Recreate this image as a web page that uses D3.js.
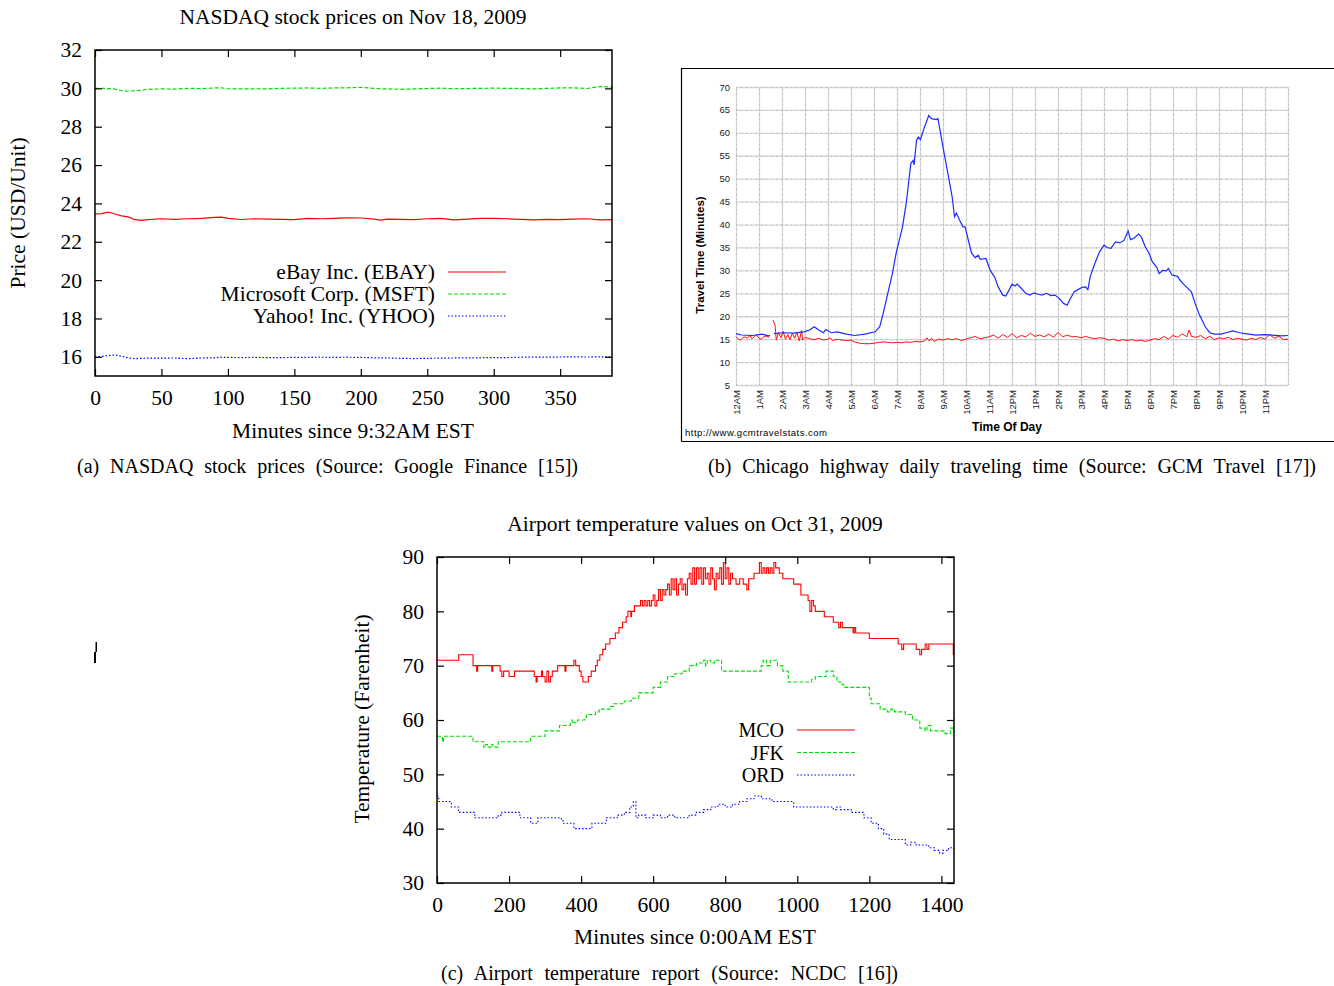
<!DOCTYPE html>
<html>
<head>
<meta charset="utf-8">
<script src="https://cdn.jsdelivr.net/npm/d3@7"></script>
<style>
  body { margin: 0; background: #fff; }
  svg { display: block; }
</style>
</head>
<body>
<svg width="1334" height="986"></svg>
<script>
// ---------- (a) NASDAQ stock prices ----------
const stockMinutes = [0, 5, 10, 15, 20, 25, 30, 35, 40, 50, 60, 70, 80, 90, 95, 100, 110, 120, 130, 140, 150, 160, 170, 180, 190, 200, 210, 215, 220, 230, 240, 250, 260, 270, 280, 290, 300, 310, 320, 330, 340, 350, 360, 370, 380, 389];
const ebayPrices = [23.45, 23.47, 23.55, 23.45, 23.35, 23.3, 23.15, 23.12, 23.15, 23.2, 23.17, 23.2, 23.22, 23.27, 23.28, 23.22, 23.16, 23.2, 23.18, 23.17, 23.15, 23.22, 23.2, 23.22, 23.25, 23.24, 23.18, 23.13, 23.18, 23.17, 23.15, 23.2, 23.22, 23.14, 23.18, 23.22, 23.22, 23.2, 23.17, 23.14, 23.17, 23.15, 23.18, 23.2, 23.14, 23.15];
const msftPrices = [30.0, 30.0, 29.99, 29.96, 29.88, 29.85, 29.88, 29.9, 29.95, 29.97, 29.96, 30.0, 29.99, 30.02, 30.03, 29.98, 29.97, 29.98, 29.97, 30.0, 30.01, 30.02, 30.0, 30.02, 30.03, 30.05, 30.0, 29.98, 29.97, 29.95, 29.97, 29.99, 30.01, 29.98, 29.99, 30.0, 30.01, 30.0, 29.99, 29.97, 30.0, 30.02, 30.03, 29.99, 30.1, 30.06];
const yhooPrices = [16.0, 16.02, 16.07, 16.1, 16.03, 15.95, 15.9, 15.92, 15.93, 15.93, 15.94, 15.9, 15.94, 15.95, 15.98, 15.97, 15.96, 15.97, 15.96, 15.96, 15.97, 15.97, 15.98, 15.97, 15.98, 15.97, 15.95, 15.94, 15.94, 15.92, 15.91, 15.92, 15.93, 15.94, 15.94, 15.95, 15.96, 15.96, 15.98, 15.98, 15.98, 15.99, 16.0, 15.99, 16.0, 16.0];
const stockNames = ["eBay Inc. (EBAY)", "Microsoft Corp. (MSFT)", "Yahoo! Inc. (YHOO)"];
const priceTicks = [16, 18, 20, 22, 24, 26, 28, 30, 32];
const stockMinuteTicks = [0, 50, 100, 150, 200, 250, 300, 350];

// ---------- (b) Chicago highway travel time ----------
// hours since midnight, null = no data
const trafficHours = [0, 0.24, 0.7, 1.15, 1.4, 1.48, 1.55, 1.65, 2.05, 2.5, 2.96, 3.2, 3.4, 3.6, 3.8, 3.9, 4.15, 4.4, 4.8, 5.15, 5.6, 6.05, 6.25, 6.4, 6.6, 6.8, 6.96, 7.1, 7.24, 7.4, 7.6, 7.7, 7.74, 7.85, 7.93, 8.02, 8.15, 8.38, 8.5, 8.7, 8.78, 8.87, 9.05, 9.24, 9.4, 9.5, 9.58, 9.73, 9.87, 9.96, 10.1, 10.24, 10.4, 10.53, 10.62, 10.87, 11.05, 11.24, 11.4, 11.6, 11.73, 11.87, 12.0, 12.13, 12.22, 12.4, 12.6, 12.78, 12.96, 13.15, 13.3, 13.5, 13.69, 13.87, 14.05, 14.24, 14.4, 14.5, 14.7, 14.87, 15.05, 15.2, 15.3, 15.4, 15.6, 15.8, 16.0, 16.13, 16.3, 16.5, 16.69, 16.87, 17.05, 17.15, 17.3, 17.5, 17.62, 17.8, 17.96, 18.1, 18.3, 18.4, 18.55, 18.7, 18.8, 18.95, 19.2, 19.3, 19.5, 19.8, 19.96, 20.15, 20.4, 20.6, 20.8, 21.1, 21.3, 21.6, 21.9, 22.3, 22.6, 23.0, 23.3, 23.7, 24.0];
const trafficTimes = [16.2, 15.9, 15.8, 16.1, 15.7, 15.8, null, 16.2, 16.4, 16.3, 16.6, 17.0, 17.7, 17.0, 16.4, 17.1, 16.4, 16.6, 16.1, 15.8, 16.1, 16.6, 17.7, 20.6, 25.0, 29.3, 33.7, 36.6, 39.5, 44.6, 53.3, 54.0, 53.0, 58.4, 59.1, 58.5, 60.6, 63.8, 63.1, 62.9, 63.1, 60.6, 55.5, 50.4, 46.0, 41.7, 42.5, 40.9, 39.5, 39.5, 36.6, 33.8, 32.8, 33.3, 32.4, 32.6, 30.0, 28.6, 26.4, 24.6, 24.4, 25.7, 27.0, 26.6, 27.0, 26.1, 25.0, 24.6, 25.1, 24.8, 24.6, 25.0, 24.5, 24.6, 23.9, 22.8, 22.4, 23.5, 25.3, 25.8, 26.3, 26.4, 25.8, 28.6, 31.5, 34.0, 35.5, 35.0, 34.8, 36.2, 36.0, 36.6, 38.6, 36.7, 37.0, 37.9, 37.3, 35.1, 33.7, 31.9, 30.6, 29.3, 30.0, 29.9, 30.4, 29.0, 28.7, 27.9, 26.8, 25.3, 22.8, 20.3, 17.7, 16.4, 16.1, 16.1, 16.4, 16.8, 16.4, 16.1, 15.9, 16.0, 15.9, 15.7, 15.8];
const freeFlowHours = [0, 0.1, 0.2, 0.3, 0.4, 0.5, 0.6, 0.7, 0.8, 0.9, 1.0, 1.1, 1.2, 1.3, 1.45, 1.5, 1.6, 1.7, 1.75, 1.85, 1.95, 2.05, 2.15, 2.25, 2.35, 2.45, 2.55, 2.65, 2.75, 2.85, 2.9, 3.0, 3.2, 3.4, 3.6, 3.8, 4.0, 4.1, 4.2, 4.4, 4.6, 4.8, 5.0, 5.2, 5.4, 5.6, 5.8, 6.0, 6.2, 6.4, 6.6, 6.8, 7.0, 7.2, 7.4, 7.6, 7.8, 8.0, 8.2, 8.3, 8.4, 8.5, 8.6, 8.8, 9.0, 9.2, 9.4, 9.6, 9.8, 10.0, 10.2, 10.4, 10.6, 10.8, 11.0, 11.2, 11.4, 11.6, 11.8, 12.0, 12.2, 12.4, 12.6, 12.8, 13.0, 13.2, 13.4, 13.6, 13.8, 14.0, 14.2, 14.4, 14.6, 14.8, 15.0, 15.2, 15.4, 15.6, 15.8, 16.0, 16.2, 16.4, 16.6, 16.8, 17.0, 17.2, 17.4, 17.6, 17.8, 18.0, 18.2, 18.4, 18.6, 18.8, 19.0, 19.2, 19.4, 19.6, 19.7, 19.8, 20.0, 20.2, 20.4, 20.6, 20.8, 21.0, 21.2, 21.4, 21.6, 21.8, 22.0, 22.2, 22.4, 22.6, 22.8, 23.0, 23.2, 23.4, 23.6, 23.8, 24.0];
const freeFlowTimes = [15.6, 15.0, 14.8, 15.3, 15.5, 15.2, 15.8, 15.1, 15.6, 15.9, 15.2, 15.0, 15.5, 15.7, 15.4, null, 19.2, 18.0, 14.8, 16.5, 15.3, 16.7, 15.0, 16.0, 14.9, 16.3, 15.2, 16.5, 14.6, 16.9, 14.8, 15.4, 15.1, 14.9, 15.2, 14.8, 15.0, 15.3, 14.7, 15.0, 14.8, 14.7, 14.8, 14.3, 14.1, 14.0, 14.0, 14.1, 14.3, 14.4, 14.3, 14.2, 14.3, 14.2, 14.4, 14.3, 14.5, 14.4, 14.6, 15.3, 14.6, 15.2, 14.5, 15.0, 14.8, 15.1, 14.9, 15.1, 14.7, 15.0, 15.3, 15.6, 15.1, 15.3, 15.5, 15.9, 15.2, 16.0, 15.4, 16.2, 15.3, 15.8, 15.5, 16.3, 15.6, 15.9, 15.5, 16.1, 15.4, 16.5, 15.5, 15.9, 15.5, 15.6, 15.3, 15.6, 15.3, 15.1, 15.3, 15.2, 14.8, 15.0, 14.6, 14.9, 14.7, 14.9, 14.6, 14.8, 14.5, 14.8, 15.1, 14.9, 15.6, 15.0, 15.8, 15.4, 16.2, 15.5, 17.0, 15.6, 15.4, 15.8, 15.1, 15.6, 14.9, 15.3, 15.1, 15.4, 14.9, 15.2, 15.0, 14.8, 15.2, 14.9, 15.4, 15.0, 16.0, 15.2, 15.6, 14.9, 15.0];
const hourLabels = ["12AM", "1AM", "2AM", "3AM", "4AM", "5AM", "6AM", "7AM", "8AM", "9AM", "10AM", "11AM", "12PM", "1PM", "2PM", "3PM", "4PM", "5PM", "6PM", "7PM", "8PM", "9PM", "10PM", "11PM"];
const travelTicks = [5, 10, 15, 20, 25, 30, 35, 40, 45, 50, 55, 60, 65, 70];

// ---------- (c) Airport temperatures, [minute, deg F] at each change ----------
const mcoTemps = [[0,71],[60,72],[100,70],[110,69],[113,70],[150,70],[152,69],[155,70],[175,69],[180,68],[185,69],[200,68],[210,68],[215,69],[270,68],[275,67],[278,68],[290,69],[293,68],[300,67],[305,69],[310,67],[315,68],[320,69],[335,70],[355,69],[358,70],[380,71],[385,70],[395,69],[400,68],[405,67],[420,68],[428,69],[440,70],[445,71],[452,72],[460,73],[468,74],[480,75],[495,76],[505,77],[515,78],[525,79],[530,80],[538,79],[540,80],[548,81],[560,81],[565,82],[570,81],[575,82],[580,81],[585,82],[590,81],[595,82],[600,83],[605,81],[610,82],[615,84],[620,82],[625,84],[630,83],[635,84],[640,85],[645,83],[650,86],[655,84],[660,86],[665,83],[670,85],[675,86],[680,84],[685,85],[690,83],[695,86],[700,87],[705,85],[710,88],[715,85],[720,88],[725,86],[730,88],[735,85],[740,88],[745,86],[750,87],[755,85],[760,88],[765,86],[770,84],[775,87],[780,86],[785,88],[790,85],[795,89],[800,86],[805,88],[810,85],[815,87],[820,86],[830,85],[840,86],[850,85],[860,84],[865,86],[875,86],[880,87],[890,87],[895,89],[900,87],[905,88],[910,87],[915,88],[920,87],[925,88],[930,87],[935,89],[940,88],[950,87],[960,86],[975,86],[990,85],[1010,83],[1030,82],[1035,80],[1040,82],[1045,81],[1050,80],[1065,80],[1075,79],[1100,78],[1115,77],[1120,78],[1125,77],[1150,77],[1155,76],[1158,77],[1162,76],[1200,75],[1270,75],[1280,74],[1290,73],[1295,74],[1330,73],[1340,72],[1345,73],[1355,74],[1360,73],[1365,74],[1430,74],[1433,72],[1435,72]];
const jfkTemps = [[0,57],[15,56],[18,57],[100,56],[130,55],[135,55.5],[140,55],[150,55.5],[155,55],[170,56],[260,57],[300,58],[340,59],[370,59.5],[375,60],[380,59.5],[390,60],[410,60.5],[415,61],[440,61.5],[450,62],[480,62.5],[490,63],[520,63.5],[540,64],[560,65],[600,66],[620,67],[640,68],[660,68.5],[680,69],[700,70],[720,70.5],[740,71],[745,70],[750,71],[760,70.5],[770,71],[790,69],[900,70],[905,71],[915,70],[925,71],[945,70],[960,69],[975,67],[1040,67.5],[1050,68],[1080,69],[1100,68],[1110,67],[1125,66.5],[1130,66],[1200,64],[1205,63],[1230,62],[1250,61.5],[1260,62],[1270,61.5],[1300,61],[1320,60],[1340,58.5],[1355,58],[1360,59],[1370,58],[1400,58],[1410,57.5],[1425,58.5],[1433,58],[1435,58]];
const ordTemps = [[0,46],[5,45],[40,44],[60,43],[105,42],[170,42.5],[180,43],[230,42],[260,41],[280,42],[345,41.5],[350,41],[380,40],[430,41],[470,42],[500,42.5],[520,43],[535,44],[545,45],[552,42],[560,42.5],[580,42],[600,42.5],[620,42],[640,42.5],[660,42],[700,42.5],[720,43],[740,43.5],[760,44],[780,44.5],[800,44],[820,44.5],[840,45],[860,45.5],[880,46],[900,45.5],[930,45],[990,44],[1080,44],[1100,43.5],[1110,44],[1120,43.5],[1150,43],[1185,42],[1205,41],[1225,40],[1240,39],[1255,38],[1280,38],[1300,37],[1315,37.5],[1330,37],[1350,37],[1365,36.5],[1380,36],[1395,35.5],[1405,36],[1420,36.5],[1435,36]];
const airportNames = ["MCO", "JFK", "ORD"];
const tempTicks = [30, 40, 50, 60, 70, 80, 90];
const dayMinuteTicks = [0, 200, 400, 600, 800, 1000, 1200, 1400];

const serif = '"Liberation Serif", "Times New Roman", serif';
const sans = '"Liberation Sans", Arial, sans-serif';
const gnuColors = ["#ff0000", "#00dd00", "#0000ff"];
const gnuDash = [null, "4,2", "1.5,2"];

const svg = d3.select("svg");

// gnuplot style box: inward ticks on all four sides, labels left/bottom
function gnuFrame(g, x, y, xTicks, yTicks) {
  const [x0, x1] = x.range();
  const [y0, y1] = y.range();
  g.append("g").attr("transform", `translate(0,${y0})`)
    .call(d3.axisBottom(x).tickValues(xTicks).tickSize(-7).tickPadding(14).tickFormat(d3.format("d")));
  g.append("g").attr("transform", `translate(0,${y1})`)
    .call(d3.axisTop(x).tickValues(xTicks).tickSize(-7).tickFormat(""));
  g.append("g").attr("transform", `translate(${x0},0)`)
    .call(d3.axisLeft(y).tickValues(yTicks).tickSize(-7).tickPadding(13).tickFormat(d3.format("d")));
  g.append("g").attr("transform", `translate(${x1},0)`)
    .call(d3.axisRight(y).tickValues(yTicks).tickSize(-7).tickFormat(""));
  g.selectAll(".domain").remove();
  g.selectAll(".tick line").attr("stroke", "#000").attr("stroke-width", 1.2);
  g.selectAll(".tick text").attr("font-family", serif).attr("font-size", 21.5).attr("fill", "#000");
  g.append("rect").attr("x", x0).attr("y", y1).attr("width", x1 - x0).attr("height", y0 - y1)
    .attr("fill", "none").attr("stroke", "#000").attr("stroke-width", 1.5);
}

function serifText(g, str, x, y, size, anchor, rot) {
  const t = g.append("text").attr("font-family", serif).attr("font-size", size)
    .attr("text-anchor", anchor || "middle").text(str);
  if (rot) t.attr("transform", `translate(${x},${y}) rotate(${rot})`);
  else t.attr("x", x).attr("y", y);
  return t;
}

// LaTeX-like justified caption
function caption(str, x0, x1, y) {
  const t = svg.append("text").attr("font-family", serif).attr("font-size", 20)
    .attr("x", x0).attr("y", y).text(str);
  const w = t.node().getComputedTextLength();
  const spaces = (str.match(/ /g) || []).length;
  t.style("word-spacing", ((x1 - x0 - w) / spaces) + "px");
}

function legend(g, names, xText, xs0, xs1, ys, size) {
  names.forEach((n, i) => {
    serifText(g, n, xText, ys[i] + 7, size, "end");
    g.append("line").attr("x1", xs0).attr("x2", xs1).attr("y1", ys[i]).attr("y2", ys[i])
      .attr("stroke", gnuColors[i]).attr("stroke-width", 1.2).attr("stroke-dasharray", gnuDash[i]);
  });
}

// ---------- panel (a) ----------
{
  const g = svg.append("g");
  const x = d3.scaleLinear().domain([0, 389]).range([95, 612]);
  const y = d3.scaleLinear().domain([15, 32]).range([376, 50]);
  const line = d3.line().x(d => x(d[0])).y(d => y(d[1]));
  [ebayPrices, msftPrices, yhooPrices].forEach((vals, i) => {
    g.append("path").datum(stockMinutes.map((m, j) => [m, vals[j]]))
      .attr("d", line).attr("fill", "none").attr("stroke", gnuColors[i])
      .attr("stroke-width", 1.2).attr("stroke-dasharray", gnuDash[i]);
  });
  gnuFrame(g, x, y, stockMinuteTicks, priceTicks);
  legend(g, stockNames, 435, 448, 506, [272, 294, 316], 21.5);
  serifText(g, "NASDAQ stock prices on Nov 18, 2009", 353, 24, 21.5);
  serifText(g, "Minutes since 9:32AM EST", 353, 438, 21.5);
  serifText(g, "Price (USD/Unit)", 25, 213, 21.5, "middle", -90);
}
caption("(a) NASDAQ stock prices (Source: Google Finance [15])", 77, 578, 473);

// ---------- panel (b) ----------
{
  const g = svg.append("g");
  g.append("path").attr("d", "M681.5,441.5 V68.5 H1340 M681.5,441.5 H1340")
    .attr("fill", "none").attr("stroke", "#000").attr("stroke-width", 1.2);
  const x = d3.scaleLinear().domain([0, 24]).range([736, 1288]);
  const y = d3.scaleLinear().domain([5, 70]).range([385, 87]);
  const allHours = hourLabels.map((h, i) => i).concat([24]);

  const grid = g.append("g");
  ["#d6d6d6", "#b4b4b4"].forEach((c, k) => {
    const gx = grid.append("g").attr("transform", "translate(0,385)")
      .call(d3.axisBottom(x).tickValues(allHours).tickSize(-298).tickFormat(""));
    const gy = grid.append("g").attr("transform", "translate(736,0)")
      .call(d3.axisLeft(y).tickValues(travelTicks).tickSize(-552).tickFormat(""));
    [gx, gy].forEach(a => {
      a.select(".domain").remove();
      a.selectAll("line").attr("stroke", c).attr("stroke-width", k ? 1 : 1.3)
        .attr("stroke-dasharray", k ? "1,4" : null);
    });
  });

  const line = d3.line().defined(d => d[1] != null).x(d => x(d[0])).y(d => y(d[1]));
  g.append("path").datum(freeFlowHours.map((h, i) => [h, freeFlowTimes[i]]))
    .attr("d", line).attr("fill", "none").attr("stroke", "#ff1010").attr("stroke-width", 1);
  g.append("path").datum(trafficHours.map((h, i) => [h, trafficTimes[i]]))
    .attr("d", line).attr("fill", "none").attr("stroke", "#1a2cff").attr("stroke-width", 1.2);

  const ya = g.append("g").attr("transform", "translate(736,0)")
    .call(d3.axisLeft(y).tickValues(travelTicks).tickSize(0).tickPadding(6));
  const xa = g.append("g").attr("transform", "translate(0,385)")
    .call(d3.axisBottom(x).tickValues(d3.range(hourLabels.length)).tickSize(0).tickFormat(i => hourLabels[i]));
  [ya, xa].forEach(a => a.select(".domain").remove());
  g.selectAll("text").attr("font-family", sans).attr("font-size", 9.5).attr("fill", "#222");
  xa.selectAll("text").attr("transform", "rotate(-90)").attr("x", -5).attr("y", 0)
    .attr("dy", "0.35em").attr("text-anchor", "end");

  g.append("text").attr("font-family", sans).attr("font-weight", "bold").attr("font-size", 12)
    .attr("text-anchor", "middle").attr("x", 1007).attr("y", 431).text("Time Of Day");
  g.append("text").attr("font-family", sans).attr("font-weight", "bold").attr("font-size", 11.5)
    .attr("text-anchor", "middle").attr("transform", "translate(704,255) rotate(-90)")
    .text("Travel Time (Minutes)");
  g.append("text").attr("font-family", sans).attr("font-size", 9.5).attr("x", 685).attr("y", 436)
    .attr("textLength", 142).text("http://www.gcmtravelstats.com");
}
caption("(b) Chicago highway daily traveling time (Source: GCM Travel [17])", 708, 1316, 473);

// ---------- panel (c) ----------
{
  const g = svg.append("g");
  const x = d3.scaleLinear().domain([0, 1435]).range([437, 954]);
  const y = d3.scaleLinear().domain([30, 90]).range([883, 557]);
  const line = d3.line().curve(d3.curveStepAfter).x(d => x(d[0])).y(d => y(d[1]));
  [mcoTemps, jfkTemps, ordTemps].forEach((pts, i) => {
    g.append("path").datum(pts).attr("d", line).attr("fill", "none")
      .attr("stroke", gnuColors[i]).attr("stroke-width", 1.1).attr("stroke-dasharray", gnuDash[i]);
  });
  gnuFrame(g, x, y, dayMinuteTicks, tempTicks);
  legend(g, airportNames, 784, 797, 855, [730, 752.5, 775], 20);
  serifText(g, "Airport temperature values on Oct 31, 2009", 695, 531, 21.5);
  serifText(g, "Minutes since 0:00AM EST", 695, 944, 21.5);
  serifText(g, "Temperature (Farenheit)", 369, 719, 21.5, "middle", -90);
}
caption("(c) Airport temperature report (Source: NCDC [16])", 441, 898, 980);

// stray mark on the left of the page
svg.append("path").attr("d", "M95.5,642 h1.5 v10 h-1 v11 h-2 v-11 h1.5 z").attr("fill", "#000");
</script>
</body>
</html>
